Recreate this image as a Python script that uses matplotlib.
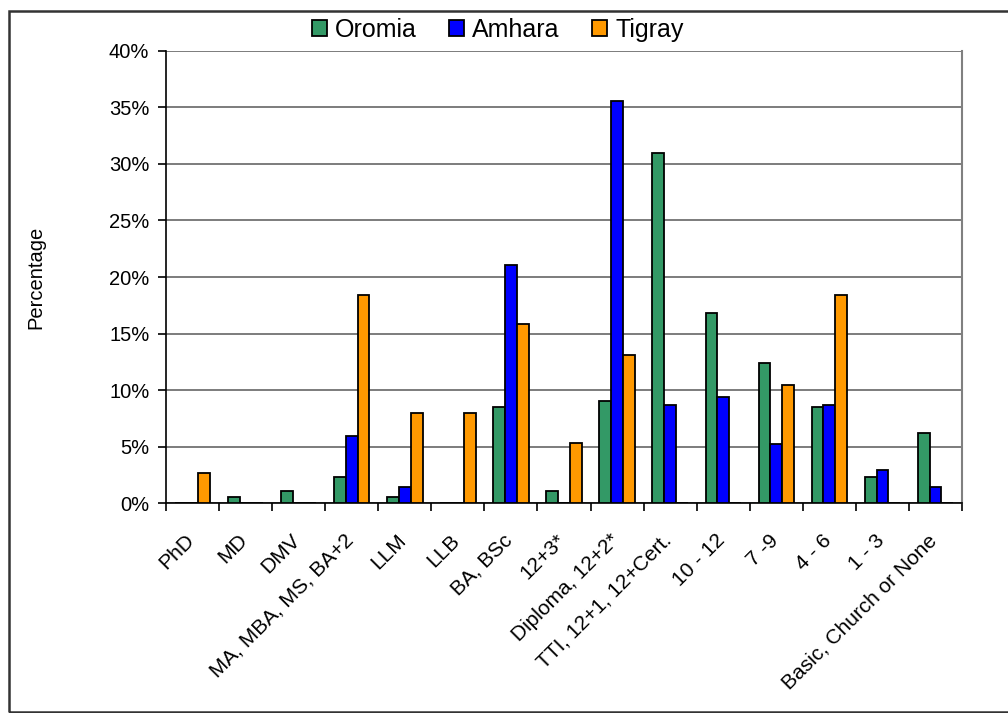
import matplotlib.pyplot as plt
import matplotlib.transforms as mtransforms
import numpy as np
from matplotlib.patches import Rectangle
from matplotlib.ticker import FuncFormatter

plt.rcParams['font.family'] = ['Liberation Sans', 'DejaVu Sans']

categories = ["PhD", "MD", "DMV", "MA, MBA, MS, BA+2", "LLM", "LLB", "BA, BSc",
              "12+3*", "Diploma, 12+2*", "TTI, 12+1, 12+Cert.", "10 - 12", "7 -9",
              "4 - 6", "1 - 3", "Basic, Church or None"]
oromia = [0, 0.55, 1.1, 2.3, 0.55, 0, 8.5, 1.1, 9.0, 31.0, 16.8, 12.4, 8.5, 2.3, 6.2]
amhara = [0, 0, 0, 5.9, 1.4, 0, 21.1, 0, 35.6, 8.7, 9.4, 5.2, 8.7, 2.9, 1.4]
tigray = [2.7, 0, 0, 18.4, 8.0, 8.0, 15.8, 5.3, 13.1, 0, 0, 10.4, 18.4, 0, 0]

series = [("Oromia", oromia, "#339966"),
          ("Amhara", amhara, "#0000FF"),
          ("Tigray", tigray, "#FF9900")]

fig = plt.figure(figsize=(10.08, 7.13), dpi=100)
ax = fig.add_axes([0.1647, 0.2945, 0.9544 - 0.1647, 0.9285 - 0.2945])

x = np.arange(len(categories))
w = 1 / 4.5
handles = []
for i, (name, vals, col) in enumerate(series):
    b = ax.bar(x + (i - 1) * w, vals, w, color=col, edgecolor="black", linewidth=1.3,
               label=name, zorder=3)
    handles.append(b)

ax.set_xlim(-0.5, len(categories) - 0.5)
ax.set_ylim(0, 40)
ax.set_yticks(np.arange(0, 41, 5))
ax.yaxis.set_major_formatter(FuncFormatter(lambda v, p: "%d%%" % v))
ax.grid(axis="y", color="#666666", linewidth=1.2, zorder=0)
ax.set_axisbelow(True)

# ticks between categories, labels at centres
ax.set_xticks(np.arange(len(categories) + 1) - 0.5)
ax.set_xticklabels([])
ax.set_xticks(x, minor=True)
ax.set_xticklabels(categories, minor=True, rotation=45, ha="right", va="top",
                   rotation_mode="anchor", fontsize=15)
ax.tick_params(axis="x", which="minor", length=0, pad=20)
ax.tick_params(axis="x", which="major", length=6, width=1.2, direction="out")
ax.tick_params(axis="y", length=6, width=1.2, labelsize=14.5, pad=6)

# shift the rotated labels a bit to the left
shift = mtransforms.ScaledTranslation(-8 / 100, 0, fig.dpi_scale_trans)
for lab in ax.get_xticklabels(minor=True):
    lab.set_transform(lab.get_transform() + shift)

ax.spines["top"].set_visible(False)
ax.spines["right"].set_color("#808080")
ax.spines["right"].set_linewidth(1.5)
ax.spines["left"].set_linewidth(1.2)
ax.spines["bottom"].set_linewidth(1.2)

ax.set_ylabel("Percentage", fontsize=14.5, labelpad=46)

fig.legend(handles=handles, loc="center", bbox_to_anchor=(0.494, 0.958), ncol=3,
           frameon=False, fontsize=18, handlelength=0.6, handleheight=0.6,
           handletextpad=0.32, columnspacing=1.3, borderpad=0)

# outer chart border
fig.patches.append(Rectangle((9 / 1008, 1 / 713), 1.2, 1 - 12 / 713,
                             transform=fig.transFigure, fill=False,
                             edgecolor="#333333", linewidth=1.8))

fig.savefig("out.png", dpi=100)
